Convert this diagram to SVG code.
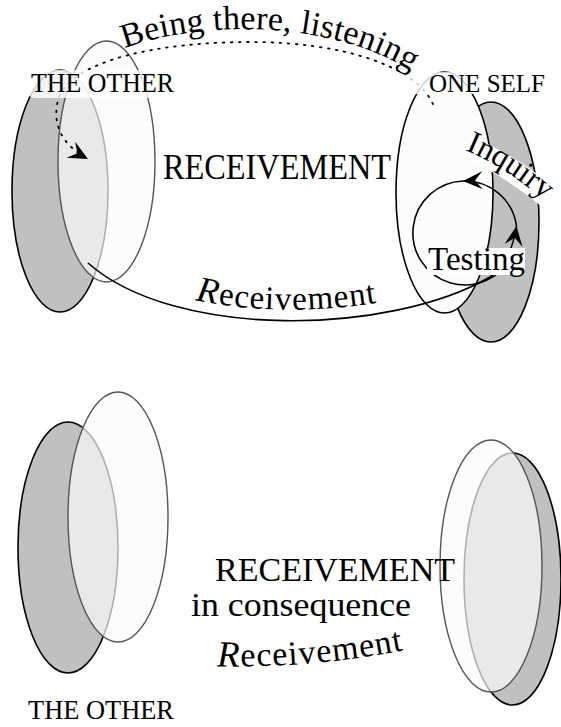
<svg xmlns="http://www.w3.org/2000/svg" width="561" height="727" viewBox="0 0 561 727">
<style>
.t{font-family:"Liberation Serif","Times New Roman",serif;fill:#000}
.dark{fill:#c0c0c0;stroke:#000;stroke-width:1.6}
.light{fill:#fbfbfb;fill-opacity:0.7;stroke:#555;stroke-width:1.4}
.lightk{fill:#fcfcfc;stroke:#000;stroke-width:1.6}
.line{fill:none;stroke:#000;stroke-width:1.6}
.dots{fill:none;stroke:#000;stroke-width:1.8;stroke-dasharray:1.6 6.5;stroke-linecap:round}
.lbl{fill:#fff;fill-opacity:0.8}
</style>
<defs>
<marker id="arr" markerUnits="userSpaceOnUse" markerWidth="24" markerHeight="24" viewBox="-14 -8 16 16" refX="0" refY="0" orient="auto">
<path d="M0,0 L-13,-6 L-8,0 L-13,6 Z" fill="#000"/>
</marker>
<path id="pBeing" d="M120,50 C200,18 350,18 430,85"/>
<path id="pRecTop" d="M88,252 C175,329 390,324 490,266"/>
<path id="pRecBot" d="M205,666 Q 310,670 420,647"/>
<path id="pInq" d="M465,150 Q506,167 546,202"/>
</defs>

<g id="other-top">
<ellipse class="dark" cx="60" cy="191" rx="48" ry="121"/>
<ellipse class="light" cx="106.5" cy="161.5" rx="48.5" ry="120.5"/>
</g>
<g id="self-top">
<ellipse class="dark" cx="491" cy="222" rx="48" ry="120"/>
<ellipse class="lightk" cx="444.5" cy="192.5" rx="48.5" ry="120.5"/>
</g>
<g id="other-bottom">
<ellipse class="dark" cx="68" cy="547.5" rx="50" ry="125.5"/>
<ellipse class="light" cx="118" cy="517" rx="50" ry="125"/>
</g>
<g id="self-bottom">
<ellipse class="dark" cx="512.5" cy="579" rx="48.5" ry="126"/>
<ellipse class="light" cx="491" cy="566" rx="51" ry="126"/>
</g>

<g id="connectors">
<path class="dots" d="M433,104 C415,65 340,42 250,42 C160,42 70,60 58,100 C52,125 62,145 88,159" marker-end="url(#arr)"/>
<path class="line" d="M88,263 C175,340 390,335 490,277"/>
<path class="line" d="M490,277 Q511,262 516.5,226" marker-end="url(#arr)"/>
<path class="line" d="M516.5,226 A52,52 0 0 0 463,181" marker-end="url(#arr)"/>
<path class="line" d="M463,181 A52,52 0 1 0 512,255"/>
</g>

<g id="labels">
<rect class="lbl" x="24" y="70" width="160" height="28" rx="12"/>
<text class="t" x="31" y="92" font-size="27" textLength="143" lengthAdjust="spacingAndGlyphs">THE OTHER</text>
<rect class="lbl" x="397" y="72" width="158" height="22" rx="11"/>
<text class="t" x="429" y="92" font-size="26" textLength="116" lengthAdjust="spacingAndGlyphs">ONE SELF</text>
<text class="t" font-size="34" letter-spacing="0.2"><textPath href="#pBeing" startOffset="5">Being there, listening</textPath></text>
<text class="t" x="163" y="179" font-size="35" textLength="228" lengthAdjust="spacingAndGlyphs">RECEIVEMENT</text>
<text class="t" font-size="33" letter-spacing="1" text-anchor="middle"><textPath href="#pRecTop" startOffset="50%"><tspan font-style="italic" font-size="36">R</tspan>eceivement</textPath></text>
<path d="M467,147 Q508,164 548,197" fill="none" stroke="#fff" stroke-width="23"/>
<text class="t" font-size="32"><textPath href="#pInq">Inquiry</textPath></text>
<rect x="427" y="248" width="98" height="27" fill="#fff"/>
<text class="t" x="428" y="270" font-size="34" textLength="97" lengthAdjust="spacingAndGlyphs">Testing</text>

<text class="t" x="215" y="581" font-size="34" textLength="240" lengthAdjust="spacingAndGlyphs">RECEIVEMENT</text>
<text class="t" x="191" y="616" font-size="34" textLength="220" lengthAdjust="spacingAndGlyphs">in consequence</text>
<text class="t" font-size="34" letter-spacing="1"><textPath href="#pRecBot" startOffset="12"><tspan font-style="italic" font-size="37">R</tspan>eceivement</textPath></text>
<rect class="lbl" x="22" y="699" width="161" height="26" rx="12"/>
<text class="t" x="28" y="719" font-size="27" textLength="146" lengthAdjust="spacingAndGlyphs">THE OTHER</text>
</g>
</svg>
